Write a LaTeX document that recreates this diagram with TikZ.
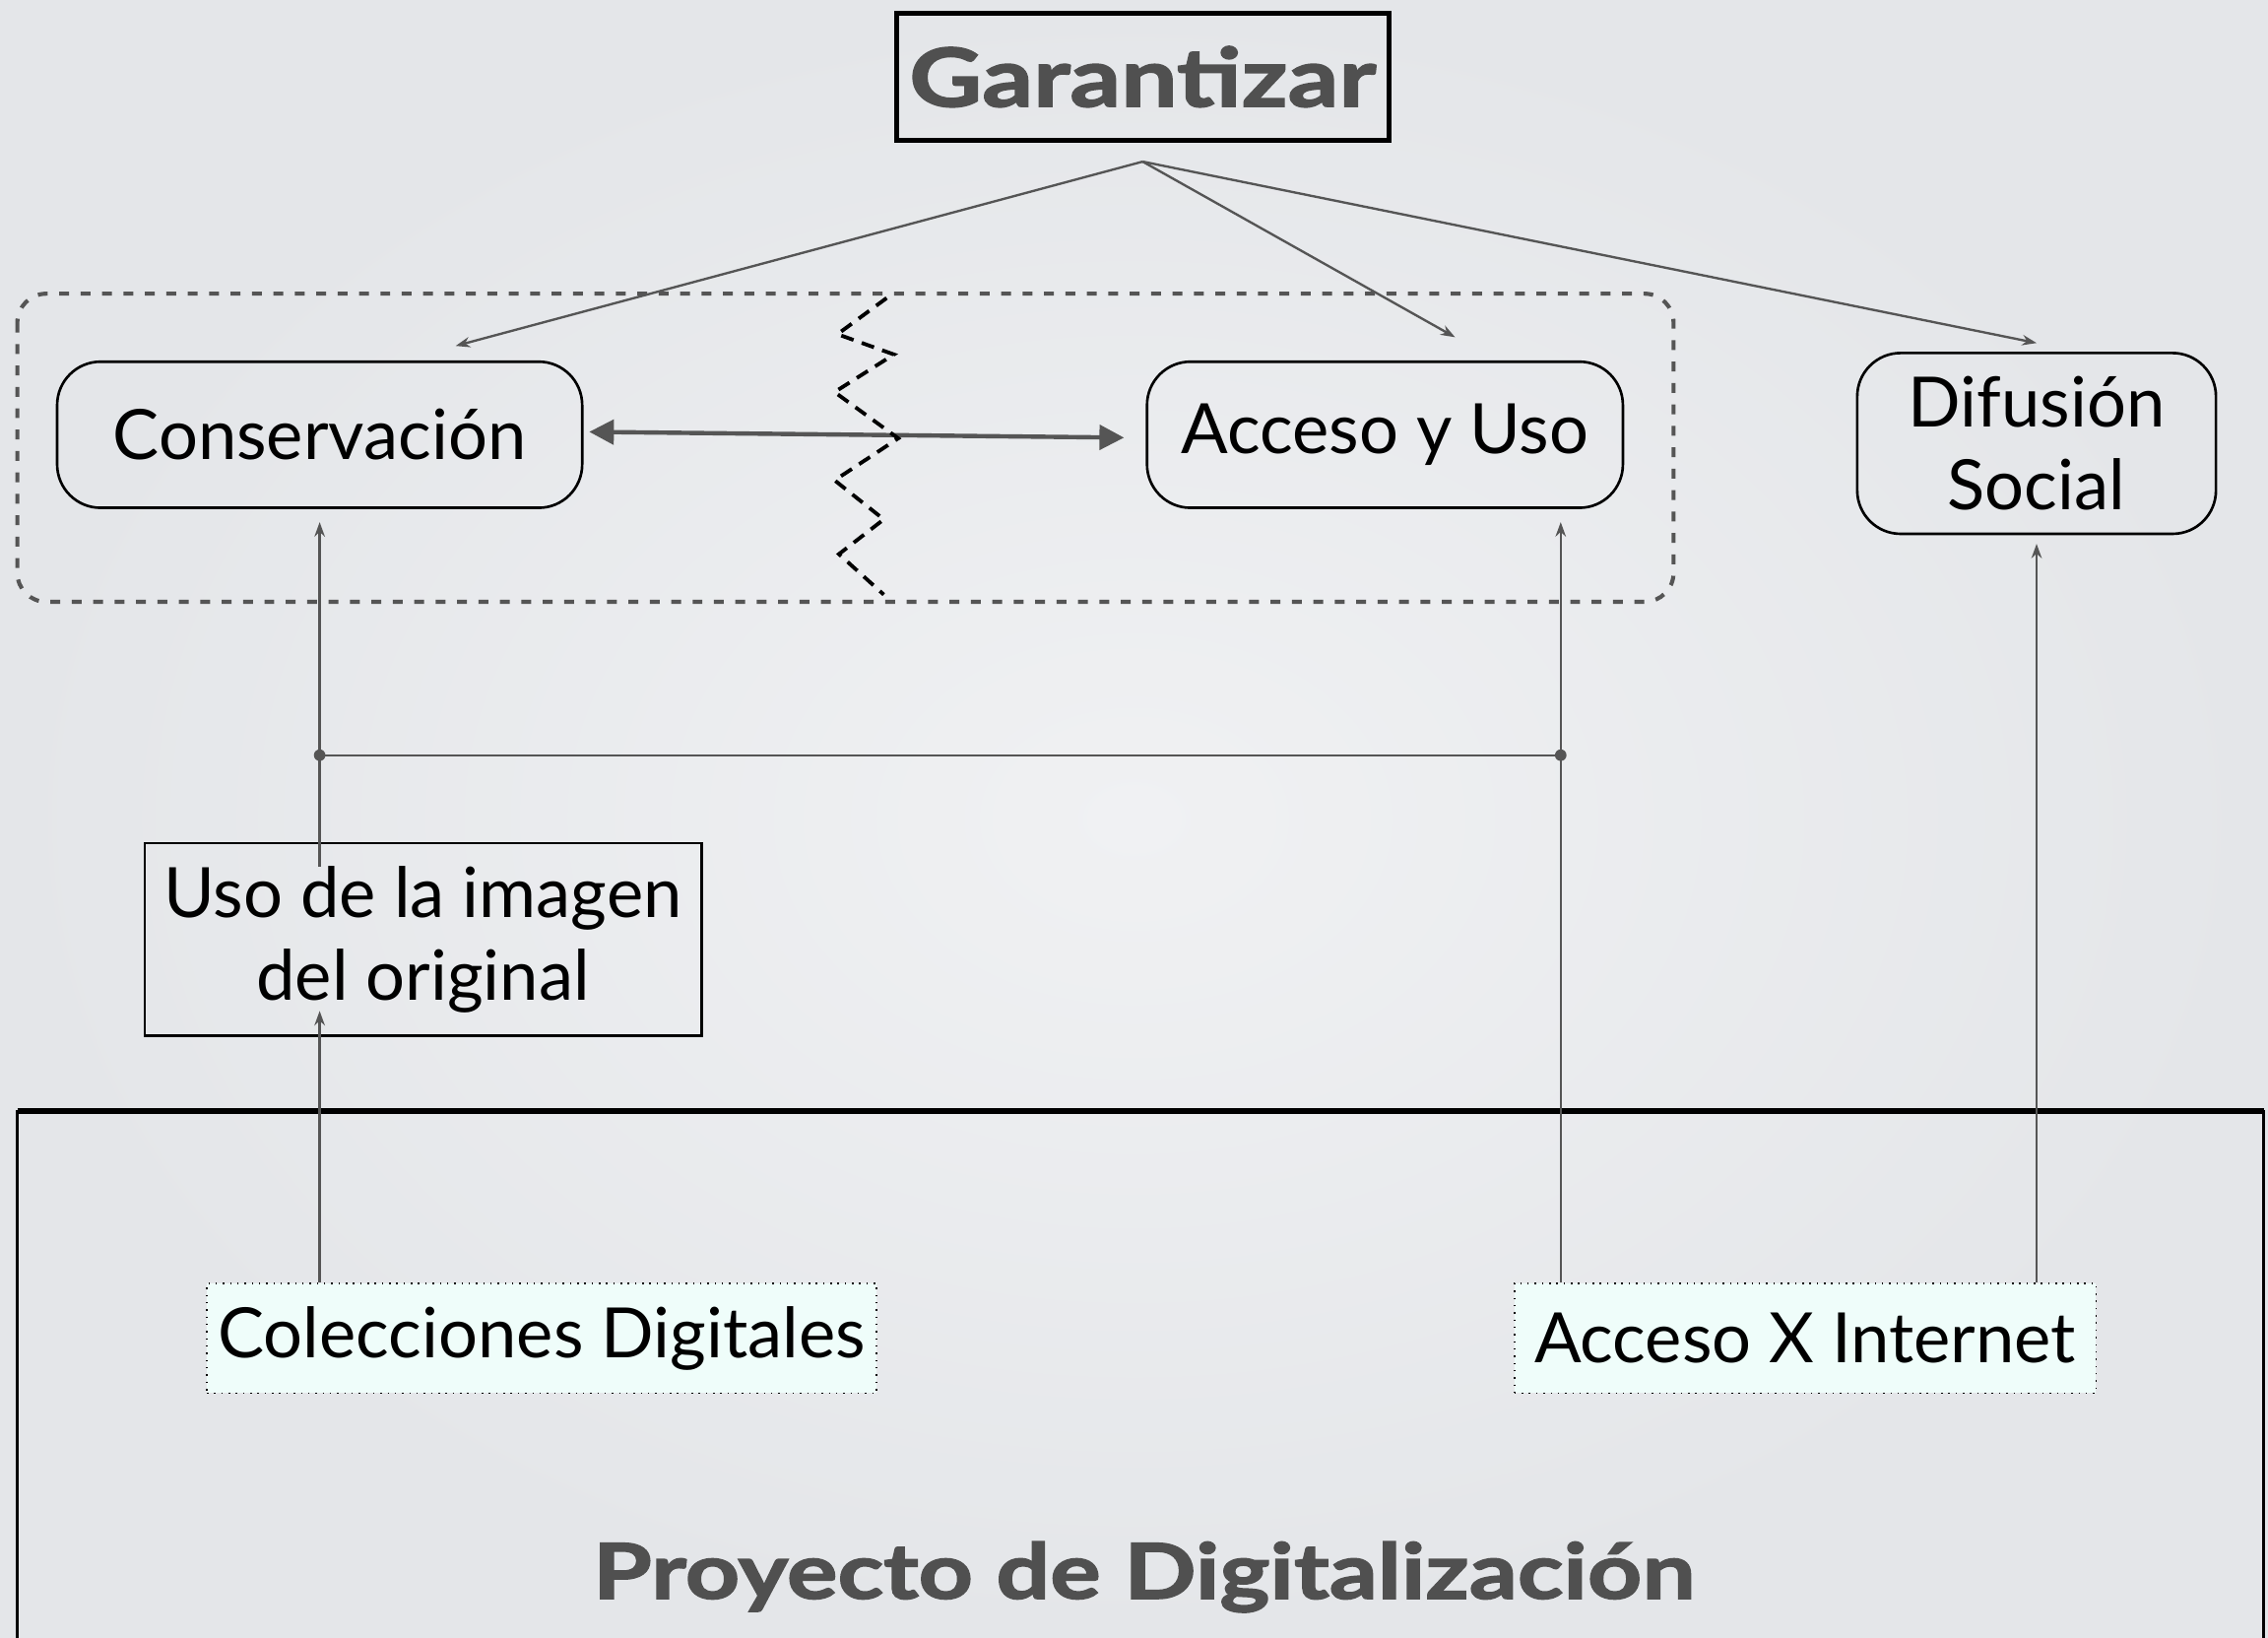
\documentclass[tikz,border=0pt]{standalone}
\usepackage{fontspec}
\setmainfont{Lato}
\newfontfamily\gruesa{Lato}[FakeStretch=1.24, BoldFeatures={FakeBold=2}]
\usetikzlibrary{arrows.meta}

\definecolor{fondo}{RGB}{228,230,233}
\definecolor{fondoclaro}{RGB}{240,241,243}
\definecolor{linea}{RGB}{85,85,85}
\definecolor{titulo}{RGB}{80,80,80}
\definecolor{celeste}{RGB}{239,253,250}

\newcommand{\letra}{\fontsize{24}{28.5}\selectfont}

\tikzset{
  meta/.style={draw, rounded corners=15pt, line width=0.9pt, inner sep=0pt,
    align=center, font=\letra},
  caja/.style={draw, line width=0.8pt, inner sep=0pt, align=center, font=\letra},
  fuente/.style={draw, dotted, line width=0.5pt, fill=celeste, inner sep=0pt, font=\letra},
  flecha/.style={draw=linea, line width=0.8pt, -{Stealth[length=5pt,width=3.6pt]}},
  doble/.style={draw=linea, line width=1.5pt,
    {Triangle[length=8.5pt,width=8.5pt]}-{Triangle[length=8.5pt,width=8.5pt]}},
}

\begin{document}
\begin{tikzpicture}[x=0.5pt,y=-0.5pt]
\useasboundingbox (0,0) rectangle (1568,1132);
\clip (0,0) rectangle (1568,1132);
\shade[inner color=fondoclaro, outer color=fondo] (0,0) rectangle (1568,1132);

	% proyecto
	\draw[line width=0.8pt] (12,1150) -- (12,768) -- (1565,768) -- (1565,1150);
	\draw[line width=2pt] (12,768) -- (1565,768);
	\node [anchor=base, text=titulo, font=\fontsize{26.5}{30}\gruesa\bfseries] (proy) at (791,1105) {Proyecto de Digitalización};

	\draw[linea, line width=1.4pt, dash pattern=on 3.4pt off 4pt, rounded corners=10pt] (12,203) rectangle (1157,416);

	\node [draw, line width=1.7pt, minimum width=170pt, minimum height=44pt, text=titulo,
	       font=\fontsize{28}{32}\gruesa\bfseries] (gar) at (790,53) {Garantizar};
	\node [meta, minimum width=181.5pt, minimum height=50.5pt] (cons) at (221,300.5) {Conservación};
	\node [meta, minimum width=164.5pt, minimum height=50.5pt] (acc) at (957.5,300.5) {Acceso y Uso};
	\node [meta, minimum width=124pt, minimum height=62.5pt] (dif) at (1408,306.5) {Difusión\\Social};
	\node [caja, minimum width=192.5pt, minimum height=66.5pt] (uso) at (292.5,649.5) {Uso de la imagen\\del original};
	\node [fuente, minimum width=231.5pt, minimum height=38pt] (cdig) at (374.5,925) {Colecciones Digitales};
	\node [fuente, minimum width=201pt, minimum height=38pt] (axi) at (1248,925) {Acceso X Internet};

	\coordinate (jl) at (221,522);
	\coordinate (jr) at (1079,522);

	\draw[flecha] ([yshift=-6.5pt]gar.south) -- ([xshift=47pt,yshift=5pt]cons.north);
	\draw[flecha] ([yshift=-6.5pt]gar.south) -- ([xshift=24.25pt,yshift=8pt]acc.north);
	\draw[flecha] ([yshift=-6.5pt]gar.south) -- ([yshift=3pt]dif.north);
	\draw[doble] ([xshift=2pt,yshift=1pt]cons.east) -- ([xshift=-7.5pt,yshift=-1pt]acc.west);

	\draw[black, line width=1.3pt, dash pattern=on 4.5pt off 3pt]
	  (613,206) -- (579,231) -- (618,245) -- (577,271) -- (621,303)
	  -- (577,332) -- (611,359) -- (580,383) -- (611,411);

	\draw[flecha, shorten <=-8.5pt, shorten >=4.5pt] (uso.north -| cons.south) -- (cons.south);
	\draw[flecha, shorten >=-9pt] (cdig.north -| cons.south) -- (uso.south -| cons.south);
	\draw[flecha, shorten >=4.5pt] (axi.north -| jr) -- (acc.south -| jr);
	\draw[flecha, shorten >=3pt] (axi.north -| dif.south) -- (dif.south);
	\draw[linea, line width=0.8pt] (jl) -- (jr);
	\fill[linea] (jl) circle (2pt) (jr) circle (2pt);
\end{tikzpicture}
\end{document}
